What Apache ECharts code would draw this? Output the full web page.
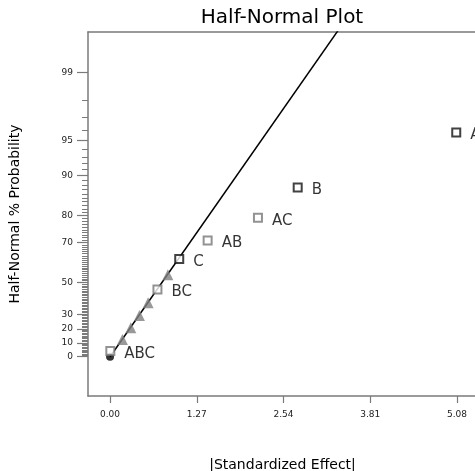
<!DOCTYPE html>
<html>
<head>
<meta charset="utf-8">
<script src="https://cdn.jsdelivr.net/npm/echarts@6/dist/echarts.min.js"></script>
<style>html,body{margin:0;padding:0;background:#fff;}#chart{width:475px;height:471px;}</style>
</head>
<body>
<div id="chart"></div>
<script>
// ---- data ----
const yTickLabels = [0, 10, 20, 30, 50, 70, 80, 90, 95, 99];
const xTickValues = [0, 1.27, 2.54, 3.81, 5.08];

const triEffect = [0.181, 0.304, 0.430, 0.558, 0.847];
const triPct    = [12.5, 20.8, 29.2, 37.5, 54.2];

const graySqNames  = ['ABC', 'BC', 'AB', 'AC'];
const graySqEffect = [0.004, 0.694, 1.429, 2.166];
const graySqPct    = [4.2, 45.8, 70.8, 79.2];

const blackSqNames  = ['C', 'B', 'A'];
const blackSqEffect = [1.013, 2.748, 5.070];
const blackSqPct    = [62.5, 87.5, 95.8];

const errEffect = [0];
const errPct    = [0];

const lineEffect = [0, 3.40];
const linePct    = [0, 99.74];

// ---- half-normal probability scale ----
function qnorm(p) {
  const a = [-3.969683028665376e+01, 2.209460984245205e+02, -2.759285104469687e+02, 1.383577518672690e+02, -3.066479806614716e+01, 2.506628277459239e+00];
  const b = [-5.447609879822406e+01, 1.615858368580409e+02, -1.556989798598866e+02, 6.680131188771972e+01, -1.328068155288572e+01];
  const c = [-7.784894002430293e-03, -3.223964580411365e-01, -2.400758277161838e+00, -2.549732539343734e+00, 4.374664141464968e+00, 2.938163982698783e+00];
  const d = [7.784695709041462e-03, 3.224671290700398e-01, 2.445134137142996e+00, 3.754408661907416e+00];
  const pl = 0.02425, ph = 1 - pl;
  let q, r;
  if (p < pl) { q = Math.sqrt(-2 * Math.log(p)); return (((((c[0]*q+c[1])*q+c[2])*q+c[3])*q+c[4])*q+c[5]) / ((((d[0]*q+d[1])*q+d[2])*q+d[3])*q+1); }
  if (p <= ph) { q = p - 0.5; r = q*q; return (((((a[0]*r+a[1])*r+a[2])*r+a[3])*r+a[4])*r+a[5])*q / (((((b[0]*r+b[1])*r+b[2])*r+b[3])*r+b[4])*r+1); }
  q = Math.sqrt(-2 * Math.log(1 - p)); return -(((((c[0]*q+c[1])*q+c[2])*q+c[3])*q+c[4])*q+c[5]) / ((((d[0]*q+d[1])*q+d[2])*q+d[3])*q+1);
}
const hz = pct => qnorm(0.5 + pct / 200);

const minorPct = [];
for (let i = 1; i <= 98; i++) minorPct.push(i);

const yMajorZ = yTickLabels.map(hz);
const yMinorZ = minorPct.map(hz);

const zip = (xs, ps) => xs.map((x, i) => [x, hz(ps[i])]);
const zipNamed = (xs, ps, ns) => xs.map((x, i) => ({ value: [x, hz(ps[i])], name: ns[i] }));

const FONT = 'DejaVu Sans';
const AX = '#7a7a7a';
const X_MIN = -0.323, X_MAX = 5.374;
const Y_MIN = -0.356, Y_MAX = 2.944;

const chart = echarts.init(document.getElementById('chart'), null, { renderer: 'canvas' });
chart.setOption({
  animation: false,
  backgroundColor: '#fff',
  title: {
    text: 'Half-Normal Plot',
    left: 277, top: 3, textAlign: 'center',
    textStyle: { fontFamily: FONT, fontSize: 20, fontWeight: 'normal', color: '#000' }
  },
  grid: {
    left: 88, top: 32, right: -2, bottom: 75,
    outerBoundsMode: 'none', containLabel: false, show: false
  },
  xAxis: [{
    type: 'value', min: X_MIN, max: X_MAX, position: 'bottom',
    name: '|Standardized Effect|', nameLocation: 'middle', nameGap: 62,
    nameTextStyle: { fontFamily: FONT, fontSize: 14, color: '#000' },
    axisLine: { show: true, onZero: false, lineStyle: { color: AX, width: 1.5 } },
    axisTick: { show: true, length: 7, customValues: xTickValues, lineStyle: { color: AX, width: 1.2 } },
    axisLabel: { customValues: xTickValues, margin: 14, fontFamily: FONT, fontSize: 9, color: '#222',
      formatter: v => v.toFixed(2) },
    splitLine: { show: false }
  }, {
    type: 'value', min: X_MIN, max: X_MAX, position: 'top',
    axisLine: { show: true, onZero: false, lineStyle: { color: AX, width: 1.5 } },
    axisTick: { show: false }, axisLabel: { show: false }, splitLine: { show: false }
  }],
  yAxis: [{
    type: 'value', min: Y_MIN, max: Y_MAX, position: 'left',
    name: 'Half-Normal % Probability', nameLocation: 'middle', nameGap: 66,
    nameTextStyle: { fontFamily: FONT, fontSize: 14, color: '#000' },
    axisLine: { show: true, onZero: false, lineStyle: { color: AX, width: 1.5 } },
    axisTick: { show: true, length: 11, customValues: yMajorZ, lineStyle: { color: AX, width: 1.2 } },
    axisLabel: { customValues: yMajorZ, margin: 15, fontFamily: FONT, fontSize: 9, color: '#222',
      formatter: v => {
        let best = 0, bd = 1e9;
        yMajorZ.forEach((z, i) => { const dd = Math.abs(z - v); if (dd < bd) { bd = dd; best = i; } });
        return String(yTickLabels[best]);
      } },
    splitLine: { show: false }
  }, {
    type: 'value', min: Y_MIN, max: Y_MAX, position: 'left',
    axisLine: { show: false, onZero: false },
    axisTick: { show: true, length: 6, customValues: yMinorZ, lineStyle: { color: AX, width: 1 } },
    axisLabel: { show: false },
    splitLine: { show: false }
  }],
  series: [
    {
      type: 'line', data: zip(lineEffect, linePct), showSymbol: false, symbol: 'none',
      lineStyle: { color: '#000', width: 1.5 }, clip: true, z: 2
    },
    {
      type: 'scatter', data: zip(triEffect, triPct), symbol: 'triangle', symbolSize: 11,
      itemStyle: { color: '#808080' }, z: 3
    },
    {
      type: 'scatter', data: zip(errEffect, errPct), symbol: 'circle', symbolSize: 8,
      itemStyle: { color: '#000' }, z: 3
    },
    {
      type: 'scatter', data: zipNamed(graySqEffect, graySqPct, graySqNames), symbol: 'rect', symbolSize: 8,
      itemStyle: { color: '#fff', borderColor: '#777', borderWidth: 2 }, z: 4,
      label: { show: true, position: 'right', distance: 9, offset: [0, 3], formatter: p => p.name,
        fontFamily: FONT, fontSize: 15, color: '#000' }
    },
    {
      type: 'scatter', data: zipNamed(blackSqEffect, blackSqPct, blackSqNames), symbol: 'rect', symbolSize: 8,
      itemStyle: { color: '#fff', borderColor: '#111', borderWidth: 2 }, z: 4,
      label: { show: true, position: 'right', distance: 9, offset: [0, 3], formatter: p => p.name,
        fontFamily: FONT, fontSize: 15, color: '#000' }
    }
  ]
});
</script>
</body>
</html>
